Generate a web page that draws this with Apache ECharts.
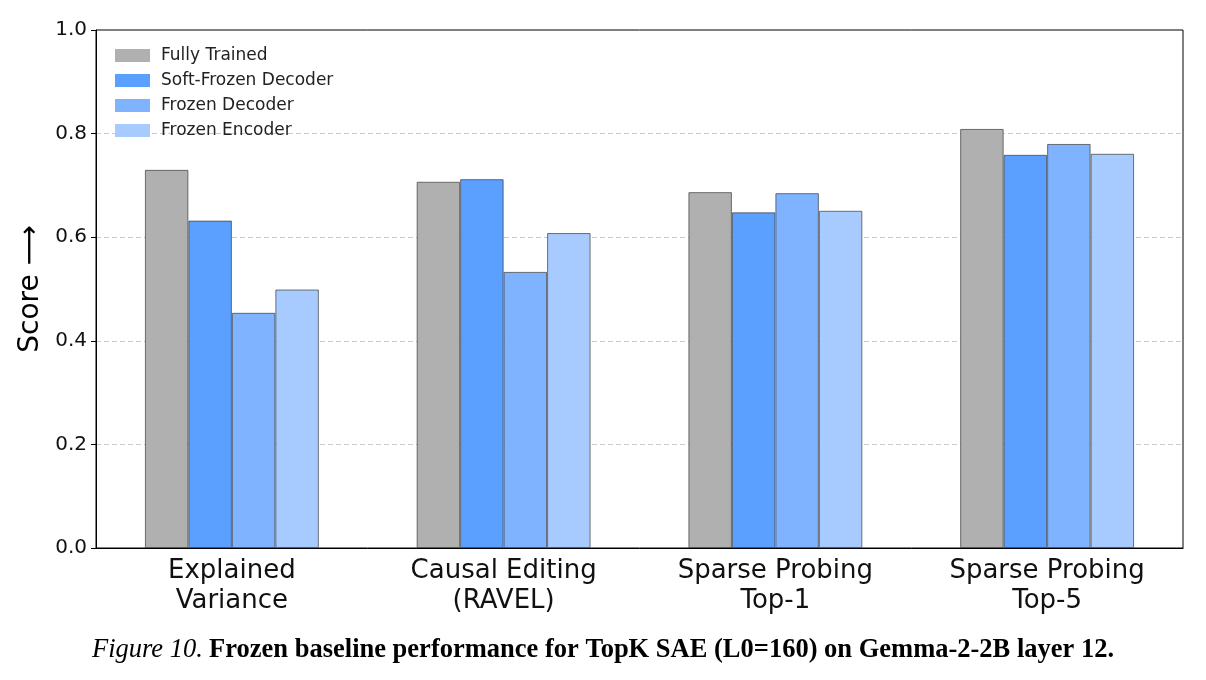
<!DOCTYPE html>
<html lang="en">
<head>
  <meta charset="UTF-8" />
  <title>Frozen baseline performance</title>
  <script src="https://cdn.jsdelivr.net/npm/echarts@6/dist/echarts.min.js"></script>
  <style>
    body { margin: 0; padding: 0; background: #fff; }
    #chart { width: 1206px; height: 680px; }
  </style>
</head>
<body>
  <div id="chart"></div>
  <script>
    const categories = ["Explained\nVariance", "Causal Editing\n(RAVEL)", "Sparse Probing\nTop-1", "Sparse Probing\nTop-5"];
    const seriesNames = ["Fully Trained", "Soft-Frozen Decoder", "Frozen Decoder", "Frozen Encoder"];
    const fullyTrained = [0.730, 0.707, 0.687, 0.809];
    const softFrozenDecoder = [0.632, 0.712, 0.648, 0.759];
    const frozenDecoder = [0.454, 0.533, 0.685, 0.780];
    const frozenEncoder = [0.499, 0.608, 0.651, 0.761];
    const colors = ["#b0b0b0", "#5b9fff", "#80b3ff", "#a8cbff"];
    const yTicks = [0, 0.2, 0.4, 0.6, 0.8, 1.0];

    const values = [fullyTrained, softFrozenDecoder, frozenDecoder, frozenEncoder];

    const chart = echarts.init(document.getElementById("chart"));

    chart.setOption({
      animation: false,
      textStyle: { fontFamily: "DejaVu Sans" },
      title: {
        text: "{i|Figure 10.} {b|Frozen baseline performance for TopK SAE (L0=160) on Gemma-2-2B layer 12.}",
        left: "center",
        top: 632,
        textStyle: {
          rich: {
            i: { fontFamily: "Liberation Serif", fontStyle: "italic", fontWeight: "normal", fontSize: 26.5, color: "#000" },
            b: { fontFamily: "Liberation Serif", fontWeight: "bold", fontSize: 26.5, color: "#000" }
          }
        }
      },
      legend: {
        orient: "vertical",
        left: 110,
        top: 42,
        itemWidth: 35,
        itemHeight: 13,
        itemGap: 8,
        icon: "rect",
        itemStyle: { borderWidth: 0 },
        textStyle: { fontSize: 17, color: "#222", padding: [0, 0, 0, 6] },
        data: seriesNames
      },
      grid: {
        left: 96, right: 23, top: 30, bottom: 132,
        show: true, borderColor: "#000", borderWidth: 1, backgroundColor: "transparent"
      },
      xAxis: {
        type: "category",
        data: categories,
        axisLine: { lineStyle: { color: "#000", width: 1 } },
        axisTick: { alignWithLabel: true, length: 5, lineStyle: { color: "#000" } },
        axisLabel: { fontSize: 26, color: "#111", lineHeight: 30, margin: 8 }
      },
      yAxis: {
        type: "value",
        min: 0, max: 1, interval: 0.2,
        name: "Score \u27f6",
        nameLocation: "middle",
        nameRotate: 90,
        nameGap: 50,
        nameTextStyle: { fontSize: 28, color: "#000" },
        axisLine: { show: true, lineStyle: { color: "#000" } },
        axisTick: { show: true, length: 5, lineStyle: { color: "#000" } },
        axisLabel: {
          fontSize: 20, color: "#111", margin: 9,
          formatter: v => yTicks.includes(Math.round(v * 10) / 10) ? v.toFixed(1) : ""
        },
        splitLine: {
          show: true,
          showMinLine: false,
          showMaxLine: false,
          lineStyle: { color: "#cccccc", type: [5, 3], width: 1 }
        }
      },
      series: seriesNames.map((name, i) => ({
        name: name,
        type: "bar",
        data: values[i],
        barGap: "0%",
        barCategoryGap: "36%",
        itemStyle: {
          color: colors[i],
          borderColor: "rgba(60,60,60,0.7)",
          borderWidth: 1
        }
      }))
    });
  </script>
</body>
</html>
